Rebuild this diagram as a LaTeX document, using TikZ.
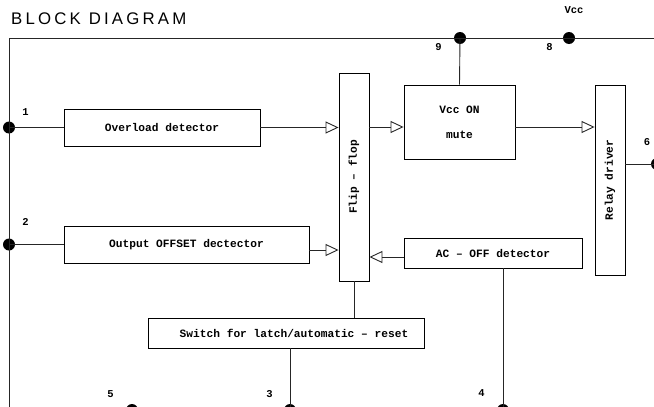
\documentclass[tikz,border=0pt]{standalone}
\usepackage{fontspec}
\usetikzlibrary{arrows.meta,calc}
\newfontfamily\lblfont{Liberation Mono}
\newfontfamily\titlefont[LetterSpace=19]{Liberation Sans}
\begin{document}
\begin{tikzpicture}[x=1pt,y=-1pt,
  box/.style={draw, line width=0.9pt, inner sep=0pt, font=\lblfont\bfseries\fontsize{11.2}{13}\selectfont},
  wire/.style={line width=0.9pt, draw=black!85},
  arr/.style={wire, -{Triangle[open,length=13pt,width=12pt]}},
  pin/.style={circle, fill=black, minimum size=12pt, inner sep=0pt},
  num/.style={font=\lblfont\bfseries\fontsize{10.5}{12}\selectfont, inner sep=0pt},
  txt/.style={font=\lblfont\bfseries\fontsize{11.2}{13}\selectfont, inner sep=0pt}]
\useasboundingbox (0,0) rectangle (654,407);
\clip (0,0) rectangle (654,407);

% title
\node[anchor=base west, inner sep=0pt, font=\titlefont\fontsize{16.8}{20}\selectfont] (title) at (11,24.5) {BLOCK DIAGRAM};

% frame coordinates
\coordinate (tl) at (9,38);
\coordinate (bl) at (9,412);
\coordinate (tr) at (660,38);

% boxes
\node[box, minimum width=196pt, minimum height=37pt] (ovl) at (162,127.5) {Overload detector};
\node[box, minimum width=30pt, minimum height=208pt] (ff) at (354,177) {\rotatebox{90}{Flip – flop}};
\node[box, minimum width=111pt, minimum height=74pt, align=center] (vcc) at (459.5,122) {Vcc ON\\[12pt]mute};
\node[box, minimum width=30pt, minimum height=190pt] (rly) at (610,180) {\rotatebox{90}{Relay driver}};
\node[box, minimum width=245pt, minimum height=37pt] (offs) at (186.5,244.5) {Output OFFSET dectector};
\node[box, minimum width=178pt, minimum height=30pt] (ac) at (493,253) {AC – OFF detector};
\node[box, minimum width=276pt, minimum height=30pt] (sw) at (286,333) {};
\node[txt] (swt) at (294,333) {Switch for latch/automatic – reset};

% pins
\node[pin] (p1) at (9,127.5) {};
\node[pin] (p2) at (9,244.5) {};
\node[pin] (p9) at (460,38) {};
\node[pin] (p8) at (569,38) {};
\node[pin] (p6) at (657,164) {};
\node[pin] (p5) at (132,410) {};
\node[pin] (p3) at (290,410) {};
\node[pin] (p4) at (503,410) {};

% frame wires
\draw[wire] (bl) -- (tl) -- (tr);

% connections
\draw[wire] (p1.center) -- (ovl.west);
\draw[wire] (p2.center) -- (offs.west);
\draw[arr] (ovl.east) -- (ovl.east -| ff.west);
\coordinate (o2) at ($(offs.east)+(0,5.5)$);
\draw[arr] (o2) -- (o2 -| ff.west);
\coordinate (vin) at ($(vcc.west)+(0,5)$);
\draw[arr] (vin -| ff.east) -- (vin);
\coordinate (vout) at ($(vcc.east)+(0,5)$);
\draw[arr] (vout) -- (vout -| rly.west);
\draw[wire] (p9.center) -- (vcc.north);
\draw[wire] (rly.east |- p6) -- (p6.center);
\coordinate (ain) at ($(ac.west)+(0,4)$);
\draw[arr] (ain) -- (ain -| ff.east);
\draw[wire] (ac.south -| p4) -- (p4.center);
\draw[wire] (ff.south) -- (ff.south |- sw.north);
\draw[wire] (sw.south -| p3) -- (p3.center);

% pin labels
\node[num] (l1) at (25.5,112) {1};
\node[num] (l2) at (25.5,222) {2};
\node[num] (l9) at (438.5,47) {9};
\node[num] (l8) at (549.5,47) {8};
\node[num] (lv) at (574,10) {Vcc};
\node[num] (l6) at (647,142.5) {6};
\node[num] (l5) at (110.5,394.5) {5};
\node[num] (l3) at (269.5,394.5) {3};
\node[num] (l4) at (481.5,393.5) {4};
\end{tikzpicture}
\end{document}
